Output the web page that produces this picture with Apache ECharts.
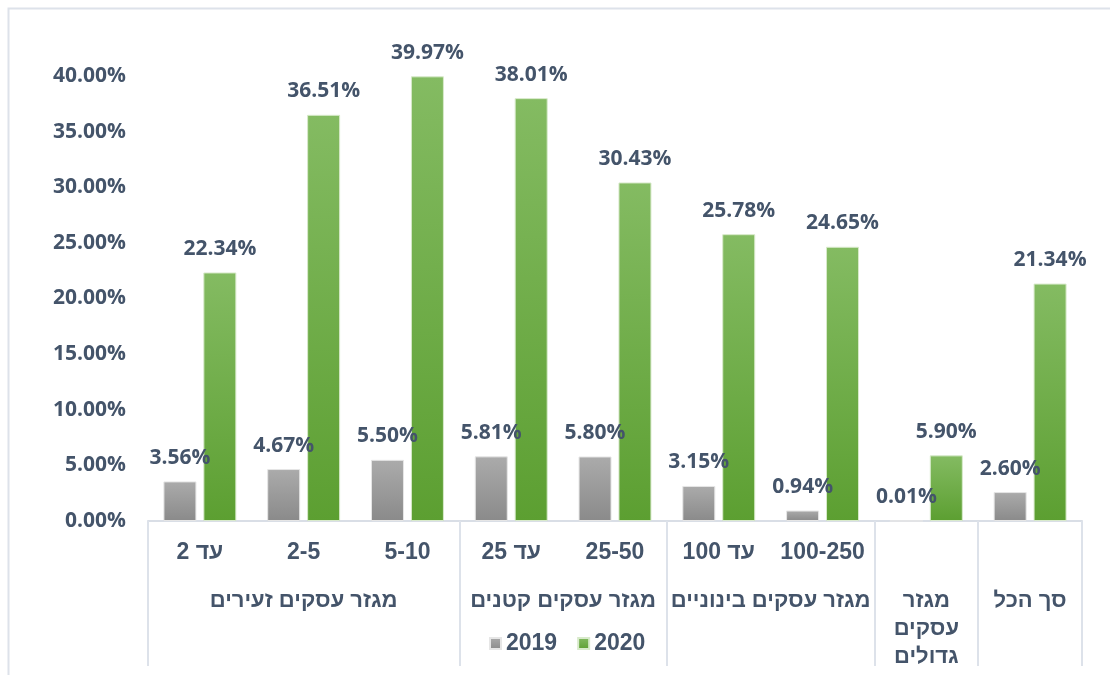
<!DOCTYPE html>
<html>
<head>
<meta charset="utf-8">
<script src="https://cdn.jsdelivr.net/npm/echarts@6/dist/echarts.min.js"></script>
<style>
  html, body { margin: 0; padding: 0; background: #fff; }
  #chart { width: 1110px; height: 675px; }
</style>
</head>
<body>
<div id="chart"></div>
<script>
  // categories (size bands) and their sector groups
  const categories = ['עד 2', '2-5', '5-10', 'עד 25', '25-50', 'עד 100', '100-250', '', '']
  const groupNames = ['מגזר עסקים זעירים', 'מגזר עסקים קטנים', 'מגזר עסקים בינוניים', 'מגזר\nעסקים\nגדולים', 'סך הכל']
  // group centre / boundary positions, counted in half-categories
  const groupCenters = [3, 8, 12, 15, 17]
  const groupBounds = [0, 6, 10, 14, 16, 18]

  const values2019 = [3.56, 4.67, 5.50, 5.81, 5.80, 3.15, 0.94, 0.01, 2.60]
  const values2020 = [22.34, 36.51, 39.97, 38.01, 30.43, 25.78, 24.65, 5.90, 21.34]
  const yTicks = [0, 5, 10, 15, 20, 25, 30, 35, 40]

  const textColor = '#44546a'
  const numFont = "'Open Sans', 'Liberation Sans', sans-serif"
  const hebFont = "'Liberation Sans', Arial, sans-serif"

  // half-category axis used only for group labels and separators
  const halfAxis = []
  for (let i = 0; i <= 18; i++) {
    const g = groupCenters.indexOf(i)
    halfAxis.push(g >= 0 ? groupNames[g] : ' ' + i)
  }

  const chart = echarts.init(document.getElementById('chart'))

  const barLabel = {
    show: true,
    position: 'top',
    distance: 13,
    formatter: p => p.value.toFixed(2) + '%',
    color: textColor,
    fontFamily: numFont,
    fontWeight: 'bold',
    fontSize: 21
  }

  chart.setOption({
    animation: false,
    graphic: [{
      type: 'rect',
      silent: true,
      shape: {x: 8.5, y: 8.5, width: 1120, height: 700},
      style: {fill: 'none', stroke: '#dde2ea', lineWidth: 2}
    }],
    grid: {
      left: 148,
      right: 28,
      top: 76,
      bottom: 154
    },
    legend: {
      data: ['2019', '2020'],
      bottom: 15,
      left: 484,
      itemWidth: 11,
      itemHeight: 11,
      itemGap: 20,
      icon: 'rect',
      textStyle: {
        color: textColor,
        fontFamily: hebFont,
        fontWeight: 'bold',
        fontSize: 23
      }
    },
    xAxis: [{
      type: 'category',
      data: categories,
      axisLine: {lineStyle: {color: '#d9dee6', width: 2}},
      axisTick: {show: false},
      axisLabel: {
        interval: 0,
        margin: 20,
        color: textColor,
        fontFamily: hebFont,
        fontWeight: 'bold',
        fontSize: 23
      }
    }, {
      type: 'category',
      position: 'bottom',
      boundaryGap: false,
      data: halfAxis,
      axisLine: {show: false},
      axisTick: {
        show: true,
        length: 145,
        interval: (i) => groupBounds.indexOf(i) >= 0,
        lineStyle: {color: '#dde2ea', width: 2}
      },
      axisLabel: {
        interval: 0,
        margin: 66,
        verticalAlign: 'top',
        lineHeight: 28,
        formatter: v => (groupNames.indexOf(v) >= 0 ? v : ''),
        color: textColor,
        fontFamily: hebFont,
        fontWeight: 'bold',
        fontSize: 22
      }
    }],
    yAxis: {
      type: 'value',
      min: 0,
      max: 40,
      interval: 5,
      splitLine: {show: false},
      axisLine: {show: false},
      axisTick: {show: false},
      axisLabel: {
        margin: 22,
        color: textColor,
        fontFamily: numFont,
        fontWeight: 'bold',
        fontSize: 21,
        formatter: v => (yTicks.indexOf(v) >= 0 ? v.toFixed(2) + '%' : '')
      }
    },
    series: [{
      name: '2019',
      type: 'bar',
      barWidth: 33,
      barGap: '21%',
      data: values2019,
      itemStyle: {
        color: new echarts.graphic.LinearGradient(0, 0, 0, 1, [
          {offset: 0, color: '#ababab'},
          {offset: 1, color: '#8a8a8a'}
        ]),
        borderColor: '#e6e6e6',
        borderWidth: 1
      },
      label: barLabel
    }, {
      name: '2020',
      type: 'bar',
      barWidth: 33,
      data: values2020,
      itemStyle: {
        color: new echarts.graphic.LinearGradient(0, 0, 0, 1, [
          {offset: 0, color: '#84bb62'},
          {offset: 1, color: '#5c9f31'}
        ]),
        borderColor: '#d8eacb',
        borderWidth: 1
      },
      label: barLabel
    }]
  })
</script>
</body>
</html>
